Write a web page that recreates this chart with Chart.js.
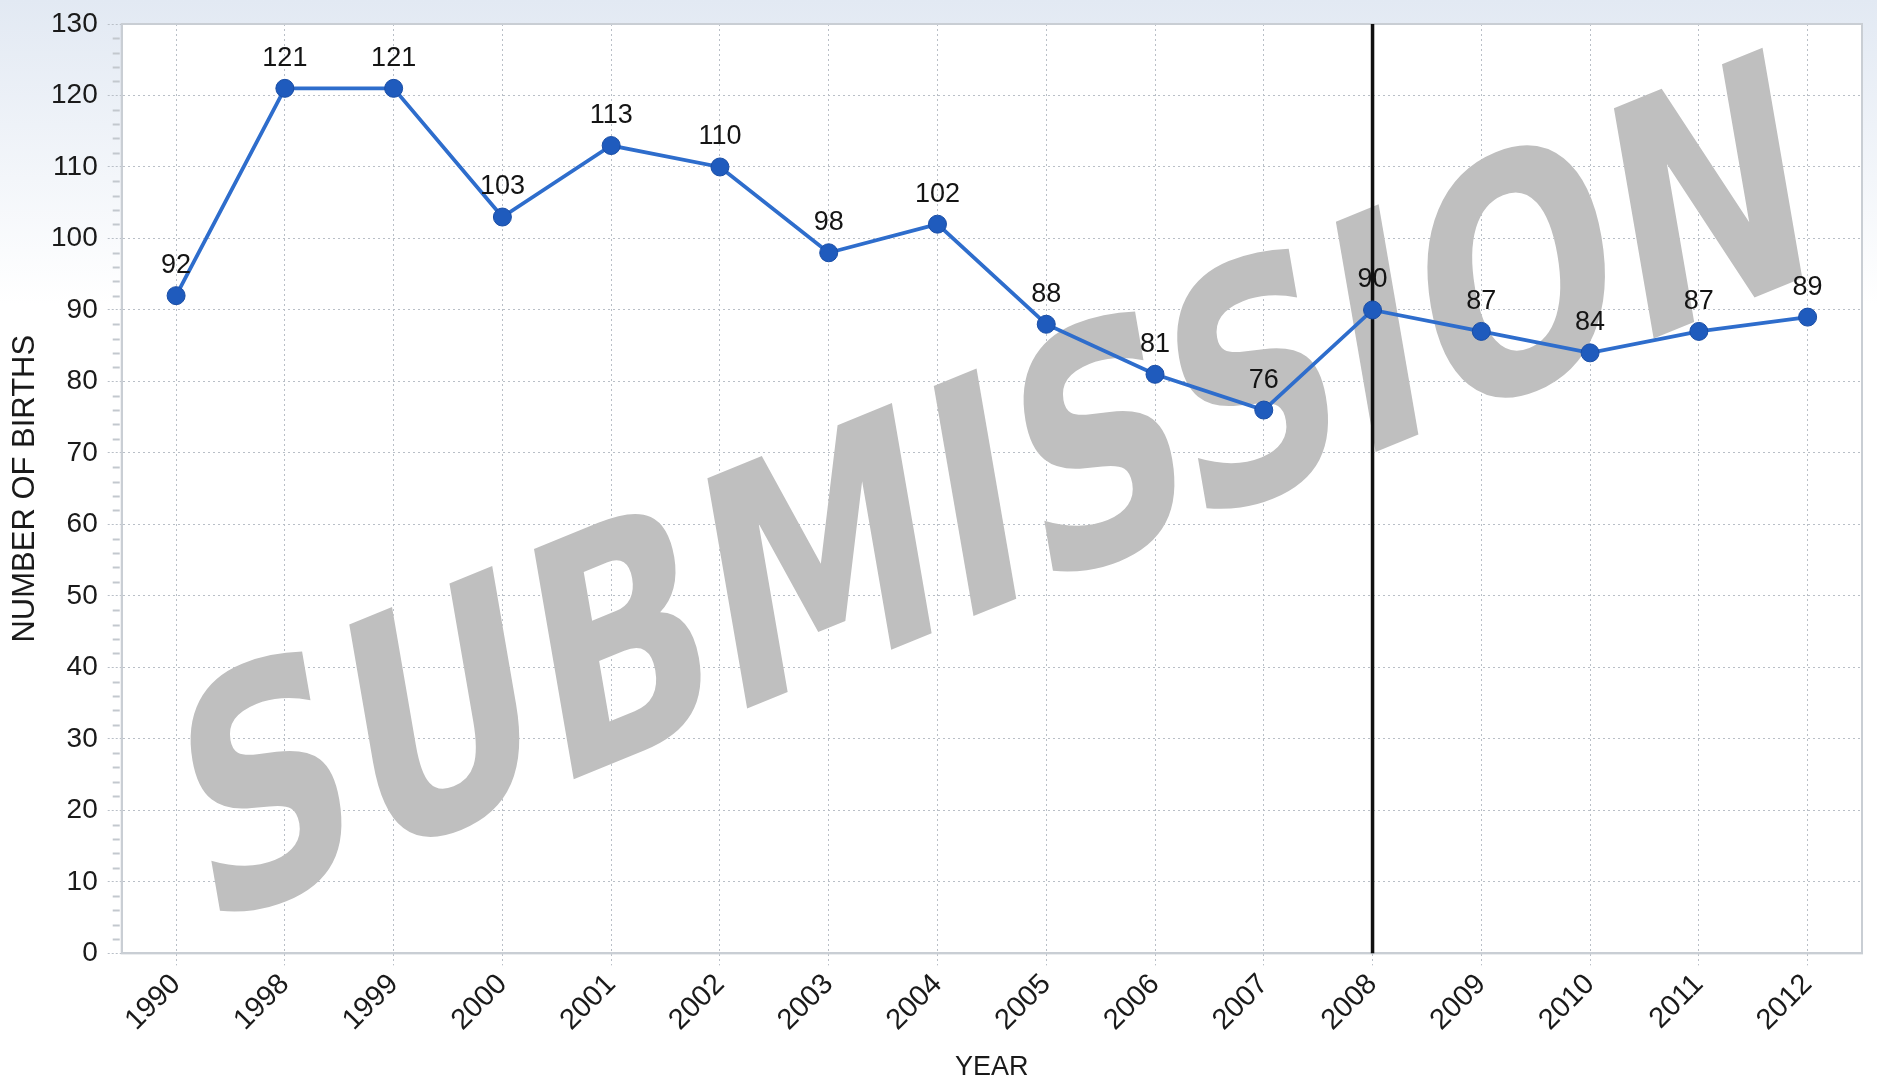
<!DOCTYPE html>
<html lang="en">
<head>
    <meta charset="UTF-8">
    <title>Number of Births</title>
    <script src="https://cdn.jsdelivr.net/npm/chart.js"></script>
    <style>
        html, body {
            margin: 0;
            padding: 0;
            background: #ffffff;
        }
        #wrap {
            width: 1877px;
            height: 1086px;
        }
    </style>
</head>
<body>
    <div id="wrap"><canvas id="birthsChart" width="1877" height="1086"></canvas></div>

    <script>
        // data
        const years = ['1990', '1998', '1999', '2000', '2001', '2002', '2003', '2004',
                       '2005', '2006', '2007', '2008', '2009', '2010', '2011', '2012'];
        const births = [92, 121, 121, 103, 113, 110, 98, 102, 88, 81, 76, 90, 87, 84, 87, 89];
        const yTicks = [0, 10, 20, 30, 40, 50, 60, 70, 80, 90, 100, 110, 120, 130];
        const markerYear = '2008';
        const watermarkText = 'SUBMISSION';

        const FONT = "'Liberation Sans', Arial, sans-serif";
        const gridGray = '#b9bfc7';

        // page background + white plot area
        const backdrop = {
            id: 'backdrop',
            beforeDraw(chart) {
                const { ctx, chartArea: a, width, height } = chart;
                ctx.save();
                const g = ctx.createLinearGradient(0, 0, 0, height);
                g.addColorStop(0, '#e2e9f3');
                g.addColorStop(0.28, '#ffffff');
                g.addColorStop(1, '#ffffff');
                ctx.fillStyle = g;
                ctx.fillRect(0, 0, width, height);
                ctx.fillStyle = '#ffffff';
                ctx.fillRect(a.left, a.top, a.right - a.left, a.bottom - a.top);
                ctx.restore();
            }
        };

        // grey watermark, the 2008 marker line, frame and minor ticks
        const overlay = {
            id: 'overlay',
            beforeDatasetsDraw(chart) {
                const { ctx, chartArea: a, scales } = chart;

                ctx.save();
                ctx.beginPath();
                ctx.rect(a.left, a.top, a.right - a.left, a.bottom - a.top);
                ctx.clip();
                ctx.translate((a.left + a.right) / 2 + 2, (a.top + a.bottom) / 2 - 4);
                ctx.rotate(-22.2 * Math.PI / 180);
                ctx.transform(1, 0, -0.22, 1, 0, 0);
                ctx.scale(0.785, 1);
                ctx.font = "bold 313px 'DejaVu Sans', Verdana, sans-serif";
                ctx.fillStyle = '#bfbfbf';
                ctx.textAlign = 'center';
                ctx.textBaseline = 'alphabetic';
                ctx.fillText(watermarkText, 0, 114);
                ctx.restore();

                // frame round the plot
                ctx.save();
                ctx.strokeStyle = '#c9ced4';
                ctx.lineWidth = 2;
                ctx.strokeRect(a.left, a.top, a.right - a.left, a.bottom - a.top);
                ctx.restore();

                // minor ticks on the y axis
                const y = scales.y;
                ctx.save();
                ctx.strokeStyle = '#c3c8ce';
                ctx.lineWidth = 2;
                for (let v = y.min; v < y.max; v += 2) {
                    if (v % 10 === 0) continue;
                    const py = Math.round(y.getPixelForValue(v)) + 0.5;
                    ctx.beginPath();
                    ctx.moveTo(a.left - 9, py);
                    ctx.lineTo(a.left - 2, py);
                    ctx.stroke();
                }
                ctx.restore();

                // vertical marker at 2008
                const px = scales.x.getPixelForValue(years.indexOf(markerYear));
                ctx.save();
                ctx.strokeStyle = '#111111';
                ctx.lineWidth = 3.5;
                ctx.beginPath();
                ctx.moveTo(px, a.top);
                ctx.lineTo(px, a.bottom);
                ctx.stroke();
                ctx.restore();
            },
            afterDatasetsDraw(chart) {
                // value labels above the points
                const { ctx } = chart;
                const meta = chart.getDatasetMeta(0);
                ctx.save();
                ctx.font = '27px ' + FONT;
                ctx.fillStyle = '#141414';
                ctx.textAlign = 'center';
                ctx.textBaseline = 'middle';
                meta.data.forEach((pt, i) => {
                    ctx.fillText(String(births[i]), pt.x, pt.y - 30);
                });
                ctx.restore();
            }
        };

        const ctx = document.getElementById('birthsChart').getContext('2d');
        const chart = new Chart(ctx, {
            type: 'line',
            data: {
                labels: years,
                datasets: [{
                    label: 'Number of births',
                    data: births,
                    borderColor: '#2e6dcc',
                    borderWidth: 3.8,
                    pointBackgroundColor: '#1f5bbd',
                    pointBorderColor: '#1a4ea6',
                    pointBorderWidth: 1,
                    pointRadius: 9,
                    tension: 0
                }]
            },
            options: {
                responsive: false,
                animation: false,
                layout: {
                    padding: { top: 1, right: 15, left: 10, bottom: 2 }
                },
                plugins: {
                    legend: { display: false },
                    tooltip: { enabled: false }
                },
                scales: {
                    x: {
                        offset: true,
                        grid: {
                            color: gridGray,
                            lineWidth: 1,
                            tickLength: 12,
                            tickColor: gridGray,
                            tickBorderDash: [2, 3],
                            offset: false
                        },
                        border: { display: true, color: '#c9ced4', width: 2, dash: [2, 3] },
                        ticks: {
                            color: '#1a1a1a',
                            font: { family: FONT, size: 29 },
                            minRotation: 45,
                            maxRotation: 45,
                            autoSkip: false,
                            padding: 2
                        },
                        title: {
                            display: true,
                            text: 'YEAR',
                            color: '#1a1a1a',
                            font: { family: FONT, size: 27 },
                            padding: { top: 12, bottom: 0 }
                        }
                    },
                    y: {
                        min: 0,
                        max: 130,
                        afterBuildTicks(scale) {
                            scale.ticks = yTicks.map(v => ({ value: v }));
                        },
                        grid: {
                            color: gridGray,
                            lineWidth: 1,
                            tickLength: 14,
                            tickColor: gridGray,
                            tickBorderDash: [2, 2]
                        },
                        border: { display: true, color: '#c9ced4', width: 2, dash: [2, 3] },
                        ticks: {
                            color: '#1a1a1a',
                            font: { family: FONT, size: 28, lineHeight: 1 },
                            padding: 10,
                            autoSkip: false
                        },
                        title: {
                            display: true,
                            text: 'NUMBER OF BIRTHS',
                            color: '#1a1a1a',
                            font: { family: FONT, size: 31, lineHeight: 1 },
                            padding: { top: 0, bottom: 0 }
                        }
                    }
                }
            },
            plugins: [backdrop, overlay]
        });
    </script>
</body>
</html>
